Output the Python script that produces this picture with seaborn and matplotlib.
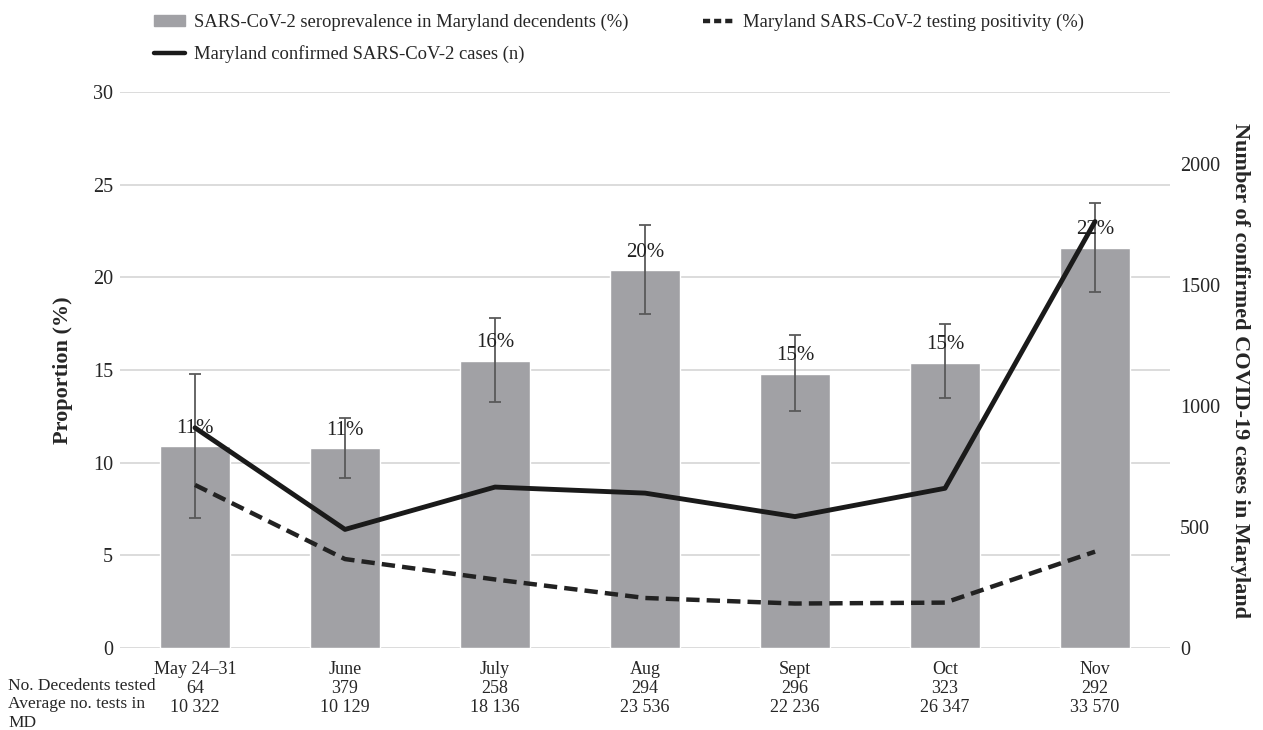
import numpy as np
import pandas as pd
import matplotlib
matplotlib.use("Agg")
import matplotlib.pyplot as plt
import seaborn as sns
from matplotlib.patches import Patch
from matplotlib.lines import Line2D

# data
months = ["May 24\u201331", "June", "July", "Aug", "Sept", "Oct", "Nov"]
decedents_tested = ["64", "379", "258", "294", "296", "323", "292"]
avg_tests = ["10 322", "10 129", "18 136", "23 536", "22 236", "26 347", "33 570"]
seroprev = [10.9, 10.8, 15.5, 20.4, 14.8, 15.4, 21.6]
sero_low = [7.0, 9.2, 13.3, 18.0, 12.8, 13.5, 19.2]
sero_high = [14.8, 12.4, 17.8, 22.8, 16.9, 17.5, 24.0]
sero_labels = ["11%", "11%", "16%", "20%", "15%", "15%", "22%"]
positivity = [8.8, 4.8, 3.7, 2.7, 2.4, 2.45, 5.2]
cases = [910, 490, 665, 640, 543, 660, 1762]

sns.set_theme(style="white")
plt.rcParams["font.family"] = ["Liberation Serif", "DejaVu Serif"]

df = pd.DataFrame({"month": months, "sero": seroprev})

fig = plt.figure(figsize=(12.63, 7.3), dpi=100)
ax = fig.add_axes([0.095, 0.1123, 0.8314, 0.7616])

bar_col = "#a1a1a5"
sns.barplot(data=df, x="month", y="sero", color=bar_col, width=0.47,
            saturation=1, ax=ax, zorder=2)
xs = np.arange(len(months))
yerr = [np.array(seroprev) - np.array(sero_low), np.array(sero_high) - np.array(seroprev)]
ax.errorbar(xs, seroprev, yerr=yerr, fmt="none", ecolor="#5a5a5a",
            elinewidth=1.3, capsize=4, capthick=1.3, zorder=3)
for x, v, lab in zip(xs, seroprev, sero_labels):
    ax.annotate(lab, (x, v), xytext=(0, 6), textcoords="offset points",
                ha="center", va="bottom", fontsize=15, color="#222222", zorder=4)

sns.lineplot(x=xs, y=positivity, ax=ax, color="#222222", lw=3.2,
             linestyle=(0, (3, 1.6)), zorder=5)

ax.set_ylim(0, 30)
ax.set_yticks(range(0, 31, 5))
ax.set_xlim(-0.5, 6.5)
ax.grid(axis="y", color="#d9d9d9", lw=1.3, zorder=0)
ax.set_axisbelow(True)
for s in ax.spines.values():
    s.set_visible(False)
ax.set_xlabel("")
ax.set_ylabel("Proportion (%)", fontsize=16, fontweight="bold", labelpad=14)
ax.set_xticks(xs)
ax.set_xticklabels([f"{m}\n{d}\n{a}" for m, d, a in zip(months, decedents_tested, avg_tests)],
                   fontsize=13, linespacing=1.17)
ax.tick_params(axis="x", length=0, pad=9)
ax.tick_params(axis="y", length=0, labelsize=14.5, pad=5)

ax2 = ax.twinx()
sns.lineplot(x=xs, y=cases, ax=ax2, color="#1a1a1a", lw=3.5)
ax2.set_ylim(0, 2297)
ax2.set_yticks([0, 500, 1000, 1500, 2000])
ax2.grid(False)
for s in ax2.spines.values():
    s.set_visible(False)
ax2.tick_params(axis="y", length=0, labelsize=14.5, pad=7)
ax2.set_ylabel("Number of confirmed COVID-19 cases in Maryland", fontsize=16,
               fontweight="bold", rotation=270, labelpad=22)

fig.text(8 / 1263, 1 - 678 / 730, "No. Decedents tested\nAverage no. tests in\nMD",
         fontsize=12.5, ha="left", va="top", linespacing=1.2)

handles = [Patch(color=bar_col), Line2D([], [], color="#1a1a1a", lw=3.2),
           Line2D([], [], color="#222222", lw=3.2, linestyle=(0, (1.6, 0.9)))]
labels = ["SARS-CoV-2 seroprevalence in Maryland decendents (%)",
          "Maryland confirmed SARS-CoV-2 cases (n)",
          "Maryland SARS-CoV-2 testing positivity (%)"]
fig.legend(handles, labels, ncol=2, loc="upper left", bbox_to_anchor=(137 / 1263, 1.004),
           frameon=False, fontsize=13.4, handlelength=1.7, handleheight=0.5,
           columnspacing=4.0, labelspacing=0.75, handletextpad=0.45)

fig.savefig("out.png", dpi=100)
